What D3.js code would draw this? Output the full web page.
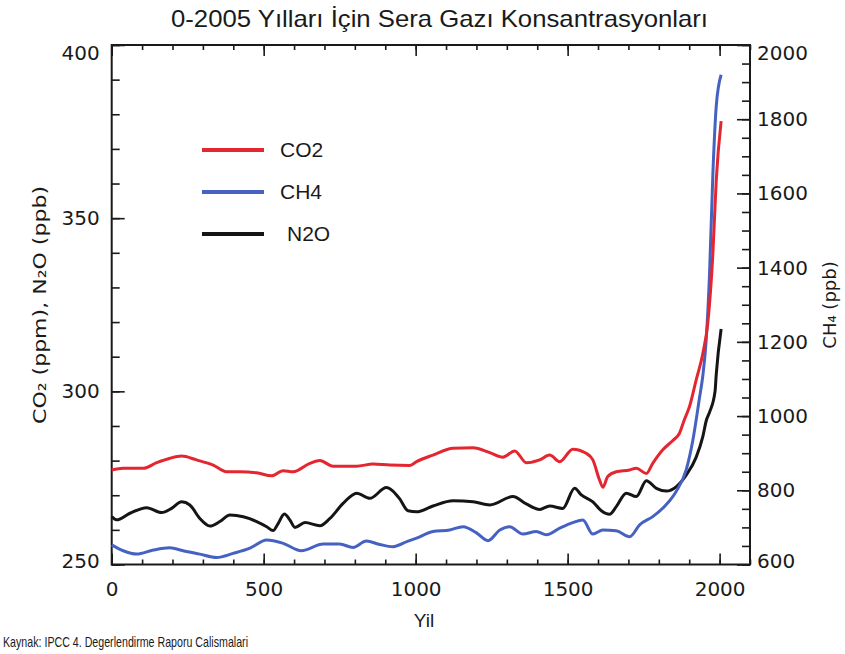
<!DOCTYPE html>
<html>
<head>
<meta charset="utf-8">
<script src="https://cdn.jsdelivr.net/npm/d3@7"></script>
<style>
  html, body { margin: 0; padding: 0; background: #fff; }
  svg { display: block; }
</style>
</head>
<body>
<svg id="chart" width="845" height="654"></svg>
<script>
// ---- data ----
const co2Years = [0,38,104,148,192,230,279,334,378,422,477,526,564,597,652,685,728,805,860,915,981,1003,1057,1123,1189,1244,1287,1326,1364,1408,1441,1474,1517,1561,1583,1605,1616,1632,1660,1704,1726,1759,1780,1813,1846,1868,1884,1901,1923,1945,1961,1978,1989,2005];
const co2Values = [277.3,277.8,277.8,279.4,280.7,281.3,280.2,278.7,276.8,276.8,276.5,275.6,277.1,276.8,279.2,280,278.4,278.4,279,278.7,278.6,279.7,281.6,283.6,283.7,282.3,281,282.8,279.4,280.2,281.6,279.7,283.3,282.1,280.2,274.4,272.3,275.4,276.8,277.3,277.8,276.3,279.2,283.1,285.8,287.9,291.8,295.6,303.3,311,319.6,340,361,378];

const ch4Years = [0,38,82,137,191,235,290,345,400,455,510,564,624,696,750,794,838,882,925,975,1003,1057,1112,1156,1199,1238,1277,1309,1353,1397,1430,1474,1517,1550,1583,1616,1660,1704,1737,1780,1824,1857,1890,1912,1934,1945,1956,1967,1978,1989,2005];
const ch4Values = [653,637,628,639,645,637,628,619,630,644,666,657,637,655,655,646,663,654,648,663,671,689,693,702,686,664,693,702,682,689,680,698,713,720,682,693,691,675,707,729,761,797,855,935,1050,1110,1206,1386,1656,1836,1920];

const n2oYears = [0,16,60,115,164,197,230,257,290,323,356,389,433,477,510,531,548,568,586,603,636,685,718,762,806,849,904,937,947,975,1003,1057,1123,1189,1244,1320,1364,1408,1441,1484,1523,1545,1583,1611,1638,1660,1693,1726,1759,1792,1825,1858,1890,1923,1945,1956,1967,1985,1989,2005];
const n2oValues = [263.8,262.9,264.8,266.4,265,266.2,268.1,267.2,263.3,261.1,262.4,264.3,263.8,262.4,260.9,259.8,261.9,264.6,262.9,260.7,262.1,261.2,263.3,267.7,270.6,269.1,272.2,270.1,269,265.5,265.2,266.9,268.4,268.1,267.2,269.6,267.5,265.9,266.9,266.2,272,270.1,268.1,265.5,264.5,266.7,270.6,269.6,274.2,272,271.2,272.5,275.8,281,287,291.5,294,300,305,318];

const xMajorTicks = [0,500,1000,1500,2000];
const xMinorTicks = d3.range(0, 2101, 100);
const leftMajorTicks = [250,300,350,400];
const leftMinorTicks = d3.range(250, 401, 10);
const rightMajorTicks = [600,800,1000,1200,1400,1600,1800,2000];
const rightMinorTicks = d3.range(600, 2001, 50);

const legendLabels = ["CO2", "CH4", "N2O"];
const titleText = "0-2005 Yılları İçin Sera Gazı Konsantrasyonları";
const xTitle = "Yil";
const sourceText = "Kaynak: IPCC 4. Degerlendirme Raporu Calismalari";

// ---- layout ----
const L = 111.7, R = 750, T = 45, B = 564.5;
const svg = d3.select("#chart");

const x = d3.scaleLinear().domain([0, 2100]).range([L, R]);
const yL = d3.scaleLinear().domain([250, 400]).range([B, T]);
const yR = d3.scaleLinear().domain([600, 2000]).range([B, T]);

const tickFont = "'DejaVu Sans', sans-serif";
const textFont = "'Liberation Sans Narrow', 'Arial Narrow', 'Liberation Sans', Arial, sans-serif";
const ink = "#1a1a1a";

function styleAxis(g) {
  g.select(".domain").remove();
  g.selectAll(".tick line").attr("stroke", ink).attr("stroke-width", 1.6);
  g.selectAll(".tick text").attr("fill", ink).style("font-family", tickFont).style("font-size", "20px");
}

// minor ticks
svg.append("g").attr("transform", `translate(0,${B})`)
  .call(d3.axisBottom(x).tickValues(xMinorTicks).tickSize(-5).tickFormat("")).call(styleAxis);
svg.append("g").attr("transform", `translate(0,${T})`)
  .call(d3.axisTop(x).tickValues(xMinorTicks).tickSize(-5).tickFormat("")).call(styleAxis);
svg.append("g").attr("transform", `translate(${L},0)`)
  .call(d3.axisLeft(yL).tickValues(leftMinorTicks).tickSize(-8).tickFormat("")).call(styleAxis);
svg.append("g").attr("transform", `translate(${R},0)`)
  .call(d3.axisRight(yR).tickValues(rightMinorTicks).tickSize(-8).tickFormat("")).call(styleAxis);

// major ticks with labels
svg.append("g").attr("transform", `translate(0,${B})`)
  .call(d3.axisBottom(x).tickValues(xMajorTicks).tickSize(-11).tickPadding(17).tickFormat(d3.format("d")))
  .call(styleAxis);
svg.append("g").attr("transform", `translate(0,${T})`)
  .call(d3.axisTop(x).tickValues(xMajorTicks).tickSize(-11).tickFormat("")).call(styleAxis);
const gL = svg.append("g").attr("transform", `translate(${L},0)`)
  .call(d3.axisLeft(yL).tickValues(leftMajorTicks).tickSize(-13).tickPadding(12).tickFormat(d3.format("d")))
  .call(styleAxis);
const gR = svg.append("g").attr("transform", `translate(${R},0)`)
  .call(d3.axisRight(yR).tickValues(rightMajorTicks).tickSize(-13).tickPadding(7).tickFormat(d3.format("d")))
  .call(styleAxis);
// end labels are nudged inside the frame as in the reference
gL.selectAll(".tick text").attr("y", d => d === 400 ? 8 : (d === 250 ? -3 : 0));
gR.selectAll(".tick text").attr("y", d => d === 2000 ? 8 : (d === 600 ? -3 : 0));

// frame
svg.append("rect").attr("x", L).attr("y", T).attr("width", R - L).attr("height", B - T)
  .attr("fill", "none").attr("stroke", ink).attr("stroke-width", 2);

// lines
const colors = { co2: "#e3262f", ch4: "#4561c2", n2o: "#151515" };
const lineL = d3.line().x(d => x(d[0])).y(d => yL(d[1])).curve(d3.curveMonotoneX);
const lineR = d3.line().x(d => x(d[0])).y(d => yR(d[1])).curve(d3.curveMonotoneX);

const n2oData = d3.zip(n2oYears, n2oValues);
const ch4Data = d3.zip(ch4Years, ch4Values);
const co2Data = d3.zip(co2Years, co2Values);

svg.append("path").attr("d", lineL(n2oData)).attr("fill", "none")
  .attr("stroke", colors.n2o).attr("stroke-width", 3).attr("stroke-linejoin", "round");
svg.append("path").attr("d", lineR(ch4Data)).attr("fill", "none")
  .attr("stroke", colors.ch4).attr("stroke-width", 3).attr("stroke-linejoin", "round");
svg.append("path").attr("d", lineL(co2Data)).attr("fill", "none")
  .attr("stroke", colors.co2).attr("stroke-width", 3).attr("stroke-linejoin", "round");

// legend
const legendColors = [colors.co2, colors.ch4, colors.n2o];
const legendY = [150, 192, 234];
const legendTextX = [280, 280, 287];
const lg = svg.append("g");
legendLabels.forEach((lab, i) => {
  lg.append("line").attr("x1", 202).attr("x2", 264).attr("y1", legendY[i]).attr("y2", legendY[i])
    .attr("stroke", legendColors[i]).attr("stroke-width", 4);
  lg.append("text").attr("x", legendTextX[i]).attr("y", legendY[i] + 7)
    .style("font-family", "'Liberation Sans', Arial, sans-serif").style("font-size", "21px")
    .attr("fill", ink).text(lab);
});

// title
svg.append("text").attr("x", 439.5).attr("y", 27).attr("text-anchor", "middle")
  .style("font-family", textFont).style("font-size", "24px").attr("fill", ink)
  .attr("textLength", 537).attr("lengthAdjust", "spacingAndGlyphs").text(titleText);

// axis titles
const lt = svg.append("text").attr("transform", "translate(46,305) rotate(-90)").attr("text-anchor", "middle")
  .style("font-family", tickFont).style("font-size", "18px").attr("fill", ink)
  .attr("textLength", 238).attr("lengthAdjust", "spacingAndGlyphs");
lt.text("CO\u2082 (ppm), N\u2082O (ppb)");

svg.append("text").attr("transform", "translate(836,305) rotate(-90)").attr("text-anchor", "middle")
  .style("font-family", tickFont).style("font-size", "18px").attr("fill", ink)
  .text("CH\u2084 (ppb)");

svg.append("text").attr("x", 424).attr("y", 627).attr("text-anchor", "middle")
  .style("font-family", textFont).style("font-size", "19px").attr("fill", ink).text(xTitle);

svg.append("text").attr("x", 3).attr("y", 647)
  .style("font-family", textFont).style("font-size", "15px").attr("fill", ink)
  .attr("textLength", 245).attr("lengthAdjust", "spacingAndGlyphs").text(sourceText);
</script>
</body>
</html>
